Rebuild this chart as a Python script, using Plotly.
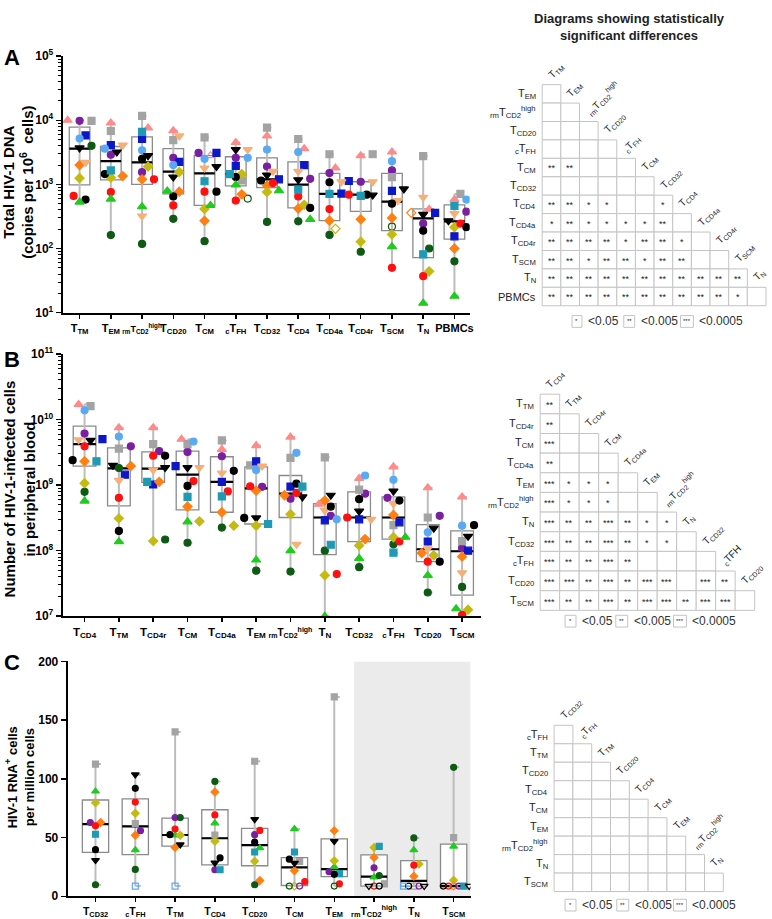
import math
import plotly.graph_objects as go

W, H = 772, 919
FONT = "Arial, 'Liberation Sans', sans-serif"
N = None

def T(s):
    return "T<sub>%s</sub>" % s

RM = "<sub>rm</sub>T<sub>CD2</sub><sup>high</sup>"
RM_TICK_A = '<span style="font-size:9px">' + RM + "</span>"
RM_TICK_B = '<span style="font-size:10px">' + RM + "</span>"
CFH = "<sub>c</sub>T<sub>FH</sub>"

# ---------------- Panel A : total HIV-1 DNA (copies per 10^6 cells) ----------------
A_CATS = [T("TM"), T("EM"), RM_TICK_A, T("CD20"), T("CM"), CFH, T("CD32"), T("CD4"),
          T("CD4a"), T("CD4r"), T("SCM"), T("N"), "PBMCs"]
A_pink    = [1.0e4, 9.1e3, 7.6e3, 6.9e3, 2.8e3, 4.5e3, 5.7e3, 3.6e3, 1.8e3, 2.8e3, 3.2e3, 410, 580]
A_purple  = [9.8e3, 2.9e3, 1.55e3, 2.6e3, 3.1e3, 2.6e3, 1.9e3, 1.22e3, 1.5e3, 1.1e3, 1.65e3, 245, 375]
A_gray    = [9.8e3, 6.8e3, 1.17e4, 4.9e3, 5.4e3, 1.15e3, 7.7e3, 5.1e3, 2.95e3, 2.95e3, 1.3e3, 2.75e3, 710]
A_blue    = [5.8e3, 4.1e3, 5.1e3, 2.25e3, 3.1e3, 1.95e3, 1.2e3, 2.0e3, 720, 1.13e3, 790, 360, 155]
A_ltblue  = [5.2e3, 3.6e3, 3.4e3, 2.0e3, 2.5e3, 2.6e3, 3.5e3, 3.2e3, N, N, 2.3e3, N, 580]
A_blktri  = [3.7e3, 3.2e3, 2.8e3, 1.3e3, 1.9e3, 3.5e3, 1.4e3, 1.18e3, N, 680, 850, 340, 270]
A_dkgreen = [4.0e3, 162, 118, 290, 130, 600, 260, 265, 163, 89, 220, 100, 63]
A_orange  = [2.0e3, 1.35e3, 1.2e3, 770, 270, 700, 960, 420, 272, 285, 300, 360, 100]
A_peach   = [2.2e3, 4.1e3, 320, 5.7e3, 1.8e3, 3.5e3, 1.6e3, 1.6e3, 1.1e3, 1.1e3, 560, 630, 350]
A_olive   = [1.25e3, 1.28e3, 1.9e3, 1.56e3, 415, 1.45e3, 760, 480, 203, 128, 166, 44, 215]
A_red     = [660, 760, 1.2e3, 470, 770, 560, 1.05e3, 650, 412, 690, 50, 37, 245]
A_blkcirc = [580, 1.45e3, 2.5e3, 650, 770, 1.3e3, 1.15e3, 430, 1.08e3, 690, 500, 190, 215]
A_green   = [530, 590, 450, 790, 470, 980, 800, 285, N, N, 107, 14, 18]
A_teal    = [N, 1.65e3, 6.6e3, N, 1.12e3, 1.45e3, N, 830, 710, 660, N, 81, 460]
A_HOLLOW  = [("pink", 4), ("dkgreen", 5), ("olive", 8), ("dkgreen", 10), ("orange", 11)]
A_Q1  = [980, 1.18e3, 1.0e3, 710, 470, 950, 890, 430, 272, 380, 190, 72, 140]
A_MED = [3.6e3, 2.3e3, 2.2e3, 1.58e3, 1.48e3, 1.45e3, 1.2e3, 990, 710, 690, 540, 295, 265]
A_Q3  = [7.8e3, 3.9e3, 5.5e3, 3.6e3, 2.8e3, 2.7e3, 2.6e3, 2.25e3, 1.48e3, 1.1e3, 1.48e3, 415, 480]

# ---------------- Panel B : HIV-1-infected cells in peripheral blood ----------------
B_CATS = [T("CD4"), T("TM"), T("CD4r"), T("CM"), T("CD4a"), T("EM"), RM_TICK_B, T("N"),
          T("CD32"), "<sub>c</sub>T<sub>FH</sub>", T("CD20"), T("SCM")]
B_pink    = [1.7e10, 7.5e9, 7.5e9, 5.0e9, 3.5e9, 4.0e9, 5.4e9, 5.1e8, 1.26e9, 1.9e9, 9.1e8, 6.6e8]
B_purple  = [6.1e9, 3.9e9, 3.3e9, 3.2e9, 2.75e9, 9.4e8, 6.2e8, 3.4e8, 7.4e8, 6.4e8, 3.4e8, 1.1e8]
B_gray    = [1.6e10, 3.6e9, 4.2e9, 4.2e9, 4.8e9, 2.0e9, 2.6e9, 2.65e9, 8.5e8, 2.45e8, 3.2e8, 1.4e8]
B_blue    = [5.0e9, 1.44e9, 1.02e9, 1.95e9, 1.12e9, 2.3e9, 9.5e8, 2.9e8, 3.0e8, 2.7e8, 1.38e8, 1.0e8]
B_ltblue  = [1.38e10, 5.5e9, N, 4.6e9, N, 1.7e9, 3.1e9, 3.0e8, 1.4e9, 1.2e9, 1.9e8, 2.4e8]
B_blktri  = [4.8e9, 2.0e9, 1.85e9, 1.85e9, N, 3.15e8, 6.6e8, 7.0e8, 4.0e8, 8.1e8, 2.2e8, 1.65e8]
B_dkgreen = [7.9e8, 1.82e9, 1.48e8, 1.32e8, 2.25e8, 4.95e7, 4.8e7, 1.0e8, 5.6e7, 1.25e8, 2.3e7, 2.8e7]
B_orange  = [2.3e9, 1.95e9, 1.12e9, 4.7e8, 3.85e8, 8.2e8, 7.0e8, 5.8e8, 1.5e8, 3.5e8, 9.2e7, 8.1e7]
B_peach   = [4.9e9, 1.18e9, 1.7e9, 1.85e9, 1.52e9, 1.95e9, 1.25e8, 4.1e8, 3.0e8, 5.2e8, 1.07e8, 4.6e7]
B_olive   = [1.07e9, 3.1e8, 1.4e8, 2.8e8, 2.4e8, 2.4e8, 3.6e8, 4.2e7, 1.2e8, 1.6e8, 8.5e7, 1.26e7]
B_red     = [3.9e9, 6.4e8, 2.8e9, 1.15e9, 8.0e8, 9.6e8, 7.6e8, 4.4e7, 3.2e8, 1.38e8, 6.8e7, 1.05e7]
B_blkcirc = [2.4e9, 2.0e8, 2.8e9, 9.7e8, 1.65e9, 3.15e8, 1.05e9, 4.7e8, 6.1e8, 5.8e8, 6.8e7, 2.45e8]
B_green   = [5.7e8, 1.37e8, N, 2.75e8, N, 7.2e7, 1.0e8, 1.0e7, 7.6e7, 1.6e8, 4.2e7, 1.3e7]
B_teal    = [2.3e9, N, 1.12e9, 6.6e8, 6.7e8, 2.55e8, 9.5e8, 1.23e8, N, 9.3e7, N, N]
B_HOLLOW  = []
B_Q1  = [1.94e9, 4.8e8, 1.1e9, 4.2e8, 3.85e8, 2.55e8, 3.2e8, 8.7e7, 1.37e8, 1.5e8, 6.8e7, 2.1e7]
B_MED = [4.2e9, 1.8e9, 1.78e9, 1.44e9, 1.12e9, 8.9e8, 7.4e8, 3.2e8, 3.2e8, 3.2e8, 1.05e8, 9.8e7]
B_Q3  = [7.9e9, 3.7e9, 3.2e9, 3.3e9, 2.7e9, 1.9e9, 1.4e9, 5.2e8, 7.9e8, 6.6e8, 2.5e8, 2.0e8]

# ---------------- Panel C : HIV-1 RNA+ cells per million cells ----------------
C_CATS = [T("CD32"), CFH, T("TM"), T("CD4"), T("CD20"), T("CM"), T("EM"), RM, T("N"), T("SCM")]
C_gray    = [112.6, 62, 140, 52.2, 115, 29.6, 169.8, 10.6, 8.7, 50]
C_green   = [89.4, 39.4, 52, 62.3, 41.1, 57.3, 25.1, 16.2, 39.4, 42.5]
C_olive   = [79.6, 70.7, 52, 46.9, 29.9, 8.7, 30.2, 41.6, 27.4, 13.7]
C_orange  = [62.8, 52, 41.6, 88.8, 13.4, 21.8, 55.9, 33, 17, 8.7]
C_purple  = [62.8, 55.9, 67, 22.6, 52.5, 8.7, 20.9, 24.3, 8.7, 8.7]
C_red     = [60, 80.2, 57.3, 69.3, 56.1, 12.6, 10.6, 8.7, 26.5, 8.7]
C_teal    = [52.8, N, N, 22.6, 37.7, 37.7, 19.3, 42.5, N, 8.7]
C_blkcirc = [39.7, 91.9, 52.5, 32.7, 46.1, 31.6, 18.7, 8.7, 8.7, 8.7]
C_blktri  = [30.7, 103.6, 44, 28.5, 65.6, 28.2, 46.9, 8.7, 8.7, 8.7]
C_dkgreen = [9.8, 22.9, 67, 97.8, 9.8, 8.7, 8.7, 17.6, 49.7, 109.8]
C_sky     = [N, 8.7, 8.7, N, N, N, N, N, 8.7, N]
C_HOLLOW  = [("gray", 8), ("olive", 5), ("orange", 9), ("purple", 5), ("purple", 8), ("purple", 9),
             ("red", 7), ("red", 9), ("blkcirc", 7), ("blkcirc", 8), ("blkcirc", 9),
             ("blktri", 7), ("blktri", 8), ("blktri", 9), ("dkgreen", 5), ("dkgreen", 6),
             ("sky", 1), ("sky", 2), ("sky", 8)]
C_Q1  = [37.4, 35.5, 42.7, 26.8, 26, 9.2, 16.8, 8.7, 8.7, 8.7]
C_MED = [61.4, 59.5, 52.2, 49.4, 43.6, 24.6, 23.2, 16.8, 13.1, 8.7]
C_Q3  = [82, 83, 66.5, 73.7, 57.8, 33, 48.9, 35.2, 30.4, 44.4]

# ---------------- significance matrices ----------------
MA_ROWS = [T("EM"), RM, T("CD20"), CFH, T("CM"), T("CD32"), T("CD4"), T("CD4a"), T("CD4r"),
           T("SCM"), T("N"), "PBMCs"]
MA_COLS = [T("TM"), T("EM"), RM, T("CD20"), CFH, T("CM"), T("CD32"), T("CD4"), T("CD4a"),
           T("CD4r"), T("SCM"), T("N")]
MA_SIG = [
    [""],
    ["", ""],
    ["", "", ""],
    ["", "", "", ""],
    ["**", "**", "", "", ""],
    ["", "", "", "", "", ""],
    ["**", "**", "*", "*", "", "", "*"],
    ["*", "**", "*", "*", "*", "*", "**", ""],
    ["**", "**", "**", "**", "*", "**", "**", "*", ""],
    ["**", "**", "*", "**", "**", "*", "**", "**", "", ""],
    ["**", "**", "**", "**", "**", "**", "**", "**", "**", "**", "**"],
    ["**", "**", "**", "**", "**", "**", "**", "**", "**", "**", "*", ""],
]
MB_ROWS = [T("TM"), T("CD4r"), T("CM"), T("CD4a"), T("EM"), RM, T("N"), T("CD32"), CFH,
           T("CD20"), T("SCM")]
MB_COLS = [T("CD4"), T("TM"), T("CD4r"), T("CM"), T("CD4a"), T("EM"), RM, T("N"), T("CD32"),
           "<sub>c</sub>TFH", T("CD20")]
MB_SIG = [
    ["**"],
    ["**", ""],
    ["***", "", ""],
    ["**", "", "", ""],
    ["***", "*", "*", "*", ""],
    ["***", "*", "*", "*", "", ""],
    ["***", "**", "**", "***", "**", "*", "*"],
    ["***", "**", "**", "***", "**", "*", "*", ""],
    ["***", "**", "**", "***", "**", "", "", "", ""],
    ["***", "***", "**", "***", "**", "***", "***", "", "***", "**"],
    ["***", "**", "**", "***", "**", "***", "***", "**", "***", "***", ""],
]
MC_ROWS = [CFH, T("TM"), T("CD20"), T("CD4"), T("CM"), T("EM"), RM, T("N"), T("SCM")]
MC_COLS = [T("CD32"), CFH, T("TM"), T("CD20"), T("CD4"), T("CM"), T("EM"), RM, T("N")]
MC_SIG = [[""] * (i + 1) for i in range(9)]

LEGEND_ITEMS = [("*", "<0.05"), ("**", "<0.005"), ("***", "<0.0005")]

# ---------------- styles ----------------
STYLE = {
    "pink":    ("#FF8A8A", "triangle-up", 8),
    "purple":  ("#7B1FA2", "circle", 7),
    "gray":    ("#A3A3A3", "square", 7),
    "blue":    ("#0B17C8", "square", 7),
    "ltblue":  ("#59AAF5", "circle", 7),
    "blktri":  ("#000000", "triangle-down", 8),
    "dkgreen": ("#0E5A14", "circle", 7),
    "orange":  ("#FF7F12", "diamond", 7),
    "peach":   ("#F5B079", "triangle-down", 8),
    "olive":   ("#C3BB12", "diamond", 7),
    "red":     ("#FF1010", "circle", 7),
    "blkcirc": ("#000000", "circle", 7),
    "green":   ("#1FCB1F", "triangle-up", 8),
    "teal":    ("#1E9AB5", "square", 7),
    "sky":     ("#59AAF5", "square", 7),
}

PANELS = [
    dict(cats=A_CATS, q1=A_Q1, med=A_MED, q3=A_Q3, hollow=A_HOLLOW,
         series={"pink": A_pink, "purple": A_purple, "gray": A_gray, "blue": A_blue,
                 "ltblue": A_ltblue, "blktri": A_blktri, "dkgreen": A_dkgreen,
                 "orange": A_orange, "peach": A_peach, "olive": A_olive, "red": A_red,
                 "blkcirc": A_blkcirc, "green": A_green, "teal": A_teal},
         log=True, lo=1, hi=5, top=48, bot=309, left=63, right=472, c0=80, sp=31.4,
         msize=1.0, step=6.0, thr=6.5, lab=11),
    dict(cats=B_CATS, q1=B_Q1, med=B_MED, q3=B_Q3, hollow=B_HOLLOW,
         series={"pink": B_pink, "purple": B_purple, "gray": B_gray, "blue": B_blue,
                 "ltblue": B_ltblue, "blktri": B_blktri, "dkgreen": B_dkgreen,
                 "orange": B_orange, "peach": B_peach, "olive": B_olive, "red": B_red,
                 "blkcirc": B_blkcirc, "green": B_green, "teal": B_teal},
         log=True, lo=7, hi=11, top=351, bot=618, left=63, right=484, c0=85, sp=34.5,
         msize=1.0, step=6.0, thr=6.5, lab=11.5),
    dict(cats=C_CATS, q1=C_Q1, med=C_MED, q3=C_Q3, hollow=C_HOLLOW,
         series={"gray": C_gray, "green": C_green, "olive": C_olive, "orange": C_orange,
                 "purple": C_purple, "red": C_red, "teal": C_teal, "blkcirc": C_blkcirc,
                 "blktri": C_blktri, "dkgreen": C_dkgreen, "sky": C_sky},
         log=False, lo=0, hi=200, top=664, bot=903, left=68, right=473, c0=96, sp=40,
         msize=0.85, step=5.2, thr=5.2, lab=10.5),
]


def px(x):
    return x / W


def py(y):
    return 1 - y / H


def swarm(items, step, thresh):
    placed, offs = [], {}
    for key, yp in sorted(items, key=lambda t: t[1]):
        best, best_d = 0, -1
        for k in [0, 1, -1, 2, -2, 3, -3]:
            xo = k * step
            dmin = min([math.hypot(xo - a, yp - b) for a, b in placed] or [99])
            if dmin >= thresh:
                best = xo
                break
            if dmin > best_d + 0.5:
                best, best_d = xo, dmin
        placed.append((best, yp))
        offs[key] = best
    return offs


fig = go.Figure()
shapes, annos = [], []
layout_axes = {}

for pi, p in enumerate(PANELS):
    sfx = "" if pi == 0 else str(pi + 1)
    xa, ya = "x" + sfx, "y" + sfx
    ncat = len(p["cats"])
    Hp = p["bot"] - p["top"]

    def ypix(v, p=p, Hp=Hp):
        if p["log"]:
            return (math.log10(v) - p["lo"]) / (p["hi"] - p["lo"]) * Hp
        return (v - p["lo"]) / (p["hi"] - p["lo"]) * Hp

    hollow = set(p["hollow"])
    offsets = {}
    for c in range(ncat):
        items = [((name, c), ypix(vals[c])) for name, vals in p["series"].items()
                 if vals[c] is not None]
        offsets.update(swarm(items, p["step"], p["thr"]))

    # whiskers (min..max of the points) with small caps
    wx, wy = [], []
    for c in range(ncat):
        vals = [v[c] for v in p["series"].values() if v[c] is not None]
        lo_v, hi_v = min(vals), max(vals)
        wx += [c, c, None, c, c + 0.14, None, c, c + 0.14, None]
        wy += [lo_v, hi_v, None, lo_v, lo_v, None, hi_v, hi_v, None]
    fig.add_trace(go.Scatter(x=wx, y=wy, mode="lines", xaxis=xa, yaxis=ya,
                             line=dict(color="#BDBDBD", width=2), hoverinfo="skip",
                             showlegend=False))
    # boxes
    fig.add_trace(go.Box(x=list(range(ncat)), q1=p["q1"], median=p["med"], q3=p["q3"],
                         lowerfence=p["q1"], upperfence=p["q3"], width=0.66,
                         xaxis=xa, yaxis=ya, fillcolor="white",
                         line=dict(color="#8A8A8A", width=1.3), whiskerwidth=0,
                         boxpoints=False, showlegend=False, hoverinfo="skip"))
    # medians
    mx, my = [], []
    for c in range(ncat):
        mx += [c - 0.33, c + 0.33, None]
        my += [p["med"][c], p["med"][c], None]
    fig.add_trace(go.Scatter(x=mx, y=my, mode="lines", xaxis=xa, yaxis=ya,
                             line=dict(color="black", width=2.2), hoverinfo="skip",
                             showlegend=False))
    # points
    for name, vals in p["series"].items():
        col, sym, size = STYLE[name]
        xs, ys, syms = [], [], []
        for c in range(ncat):
            if vals[c] is None:
                continue
            xs.append(c + offsets[(name, c)] / p["sp"])
            ys.append(vals[c])
            syms.append(sym + "-open" if (name, c) in hollow else sym)
        fig.add_trace(go.Scatter(x=xs, y=ys, mode="markers", xaxis=xa, yaxis=ya,
                                 marker=dict(color=col, symbol=syms, size=size * p["msize"],
                                             line=dict(color=col, width=1.2)),
                                 showlegend=False, name=name))

    xr = [(p["left"] - p["c0"]) / p["sp"], (p["right"] - p["c0"]) / p["sp"]]
    tickfont = dict(family=FONT, size=p["lab"], color="black")
    layout_axes["xaxis" + sfx] = dict(
        domain=[px(p["left"]), px(p["right"])], range=xr, anchor=ya,
        tickmode="array", tickvals=list(range(ncat)), tickangle=0,
        ticktext=["<b>%s</b>" % c for c in p["cats"]], tickfont=tickfont,
        showline=True, linecolor="black", linewidth=2, ticks="outside", ticklen=4,
        tickwidth=1.5, tickcolor="black", showgrid=False, zeroline=False, fixedrange=True)
    ydict = dict(domain=[py(p["bot"]), py(p["top"])], anchor=xa, showline=True,
                 linecolor="black", linewidth=2, ticks="outside", ticklen=5, tickwidth=1.5,
                 tickcolor="black", showgrid=False, zeroline=False,
                 tickfont=dict(family=FONT, size=12, color="black"), fixedrange=True)
    if p["log"]:
        decs = list(range(p["lo"], p["hi"] + 1))
        minor_vals = [m * 10 ** d for d in decs[:-1] for m in range(2, 10)]
        ydict.update(type="log", range=[p["lo"], p["hi"]], tickmode="array",
                     tickvals=[10 ** d for d in decs],
                     ticktext=["<b>10<sup>%d</sup></b>" % d for d in decs],
                     minor=dict(tickmode="array", tickvals=minor_vals, ticks="outside",
                                ticklen=3, tickwidth=1, tickcolor="black"))
    else:
        ydict.update(range=[0, 200], tickmode="array", tickvals=[0, 50, 100, 150, 200],
                     ticktext=["<b>%d</b>" % v for v in [0, 50, 100, 150, 200]])
    layout_axes["yaxis" + sfx] = ydict

# shaded region in panel C (last three categories)
shapes.append(dict(type="rect", xref="x3", yref="y3", x0=6.5, x1=(473 - 96) / 40, y0=0,
                   y1=200, fillcolor="#EBEBEB", line=dict(width=0), layer="below"))

# panel letters and y titles
for letter, y in [("A", 49), ("B", 357), ("C", 665)]:
    annos.append(dict(text="<b>%s</b>" % letter, x=px(2), y=py(y), xref="paper",
                      yref="paper", xanchor="left", yanchor="middle", showarrow=False,
                      font=dict(family=FONT, size=22, color="black")))
for txt, xc, yc, fs in [("<b>Total HIV-1 DNA<br>(copies per 10<sup>6</sup>  cells)</b>", 19, 176, 15),
                        ("<b>Number of HIV-1-infected cells<br>in peripheral blood</b>", 20, 488, 15),
                        ("<b>HIV-1 RNA<sup>+</sup> cells<br>per million cells</b>", 20, 782, 13)]:
    annos.append(dict(text=txt, x=px(xc), y=py(yc), xref="paper", yref="paper",
                      xanchor="center", yanchor="middle", textangle=-90, showarrow=False,
                      font=dict(family=FONT, size=fs, color="black")))

annos.append(dict(text="<b>Diagrams showing statistically<br>significant differences</b>",
                  x=px(633), y=py(0), xref="paper", yref="paper", xanchor="center",
                  yanchor="top", showarrow=False,
                  font=dict(family=FONT, size=13, color="#222222")))


def draw_matrix(rows, cols, sig, L, Tp, w, h, legend_y, legend_x):
    for r, row in enumerate(sig):
        for c, s in enumerate(row):
            shapes.append(dict(type="rect", xref="paper", yref="paper",
                               x0=px(L + c * w), x1=px(L + (c + 1) * w),
                               y0=py(Tp + (r + 1) * h), y1=py(Tp + r * h),
                               line=dict(color="#C4C4C4", width=1), fillcolor="white"))
            if s:
                annos.append(dict(text=s, x=px(L + (c + 0.5) * w), y=py(Tp + (r + 0.55) * h),
                                  xref="paper", yref="paper", xanchor="center",
                                  yanchor="middle", showarrow=False,
                                  font=dict(family=FONT, size=9, color="#222222")))
        annos.append(dict(text=rows[r], x=px(L - 4), y=py(Tp + (r + 0.5) * h), xref="paper",
                          yref="paper", xanchor="right", yanchor="middle", showarrow=False,
                          font=dict(family=FONT, size=11, color="#222222")))
    for c, lab in enumerate(cols):
        annos.append(dict(text=lab, x=px(L + c * w + 1), y=py(Tp + c * h - 1), xref="paper",
                          yref="paper", xanchor="left", yanchor="bottom", textangle=-45,
                          showarrow=False, font=dict(family=FONT, size=10, color="#222222")))
    for (sym, lab), (bx, bw) in zip(LEGEND_ITEMS, legend_x):
        shapes.append(dict(type="rect", xref="paper", yref="paper", x0=px(bx), x1=px(bx + bw),
                           y0=py(legend_y + 6), y1=py(legend_y - 6),
                           line=dict(color="#C4C4C4", width=1), fillcolor="white"))
        annos.append(dict(text=sym, x=px(bx + bw / 2), y=py(legend_y), xref="paper",
                          yref="paper", xanchor="center", yanchor="middle", showarrow=False,
                          font=dict(family=FONT, size=6, color="#222222")))
        annos.append(dict(text=lab, x=px(bx + bw + 4), y=py(legend_y), xref="paper",
                          yref="paper", xanchor="left", yanchor="middle", showarrow=False,
                          font=dict(family=FONT, size=12, color="#333333")))


draw_matrix(MA_ROWS, MA_COLS, MA_SIG, 545, 77, 18.75, 18.75, 318,
            [(575, 10), (627, 11), (684, 13)])
draw_matrix(MB_ROWS, MB_COLS, MB_SIG, 543, 392, 19.6, 20, 623,
            [(568, 11), (619, 12), (677, 13)])
draw_matrix(MC_ROWS, MC_COLS, MC_SIG, 557, 729, 18.9, 18.8, 912,
            [(568, 11), (620, 12), (677, 13)])

fig.update_layout(width=W, height=H, margin=dict(l=0, r=0, t=0, b=0),
                  paper_bgcolor="white", plot_bgcolor="rgba(0,0,0,0)",
                  shapes=shapes, annotations=annos, showlegend=False,
                  font=dict(family=FONT), **layout_axes)
fig.write_html("out.html", config={"displayModeBar": False, "staticPlot": True},
               post_script="document.body.style.margin='0';document.body.style.overflow='hidden';")
